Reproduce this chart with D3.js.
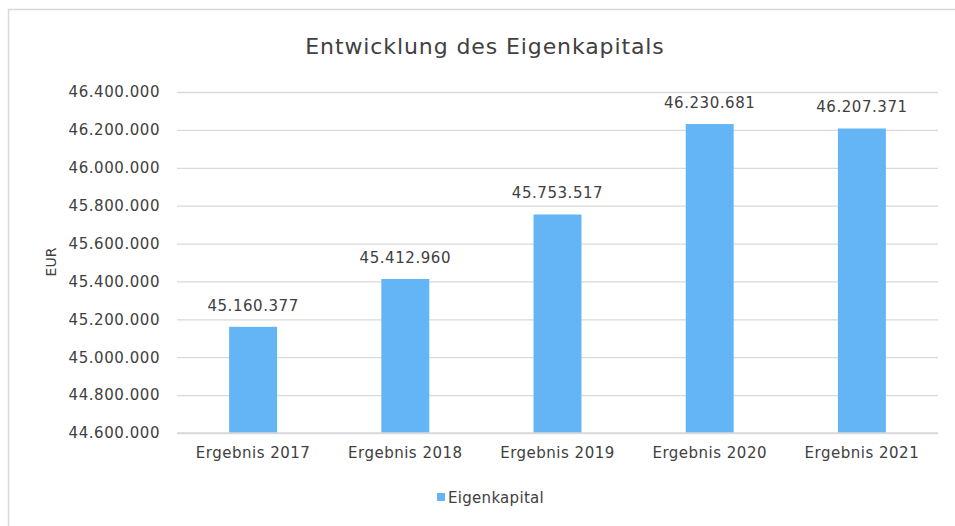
<!DOCTYPE html>
<html><head><meta charset="utf-8">
<script src="https://cdn.jsdelivr.net/npm/d3@7"></script>
<style>
body{margin:0;background:#fff;}
text{font-family:"DejaVu Sans",sans-serif;fill:#404040;}
</style></head>
<body><svg id="c" width="955" height="526"></svg>
<script>
const categories = ["Ergebnis 2017","Ergebnis 2018","Ergebnis 2019","Ergebnis 2020","Ergebnis 2021"];
const values = [45160377, 45412960, 45753517, 46230681, 46207371];
const yTicks = [44600000,44800000,45000000,45200000,45400000,45600000,45800000,46000000,46200000,46400000];
const seriesName = "Eigenkapital";
const title = "Entwicklung des Eigenkapitals";
const yTitle = "EUR";

const svg = d3.select("#c");
const fmt = d3.formatLocale({decimal:",",thousands:".",grouping:[3],currency:["","€"]}).format(",d");
const m = {l:177, r:938, t:92, b:433};
svg.append("rect").attr("x",8.5).attr("y",9.5).attr("width",960).attr("height",530)
  .attr("fill","#fff").attr("stroke","#d9d9d9").attr("stroke-width",1.5);

const x = d3.scaleBand().domain(categories).range([m.l,m.r]).paddingInner(0.685).paddingOuter(0.3425);
const y = d3.scaleLinear().domain([44600000,46400000]).range([m.b,m.t]);

const ga = svg.append("g").attr("transform",`translate(${m.l},0)`)
  .call(d3.axisLeft(y).tickValues(yTicks).tickSize(-(m.r-m.l)).tickPadding(17).tickFormat(fmt));
ga.select(".domain").remove();
ga.selectAll(".tick line").attr("stroke","#d9d9d9").attr("stroke-width",1.3);
ga.selectAll(".tick text").attr("font-size",15).attr("letter-spacing","0.55px").attr("fill","#404040");

svg.append("g").selectAll("rect").data(values).join("rect")
  .attr("x",(d,i)=>x(categories[i])).attr("width",x.bandwidth())
  .attr("y",d=>y(d)).attr("height",d=>y(44600000)-y(d)).attr("fill","#64b5f6");

svg.append("line").attr("x1",m.l).attr("x2",m.r).attr("y1",y(44600000)).attr("y2",y(44600000))
  .attr("stroke","#d9d9d9").attr("stroke-width",1.5);

const gx = svg.append("g").attr("transform",`translate(0,${m.b})`)
  .call(d3.axisBottom(x).tickSize(0).tickPadding(14));
gx.select(".domain").remove();
gx.selectAll(".tick text").attr("font-size",15).attr("letter-spacing","0.5px").attr("fill","#404040");

svg.append("g").selectAll("text").data(values).join("text")
  .attr("x",(d,i)=>x(categories[i])+x.bandwidth()/2).attr("y",d=>y(d)-16)
  .attr("text-anchor","middle").attr("font-size",15).attr("letter-spacing","0.55px").text(d=>fmt(d));

svg.append("text").attr("x",485).attr("y",54).attr("text-anchor","middle")
  .attr("font-size",22).attr("letter-spacing","0.9px").text(title);

svg.append("text").attr("transform","translate(56,262) rotate(-90)").attr("text-anchor","middle")
  .attr("font-size",14).text(yTitle);

svg.append("rect").attr("x",437).attr("y",493).attr("width",8).attr("height",8).attr("fill","#64b5f6");
svg.append("text").attr("x",448).attr("y",503).attr("font-size",15).attr("letter-spacing","0.3px").text(seriesName);
</script></body></html>
